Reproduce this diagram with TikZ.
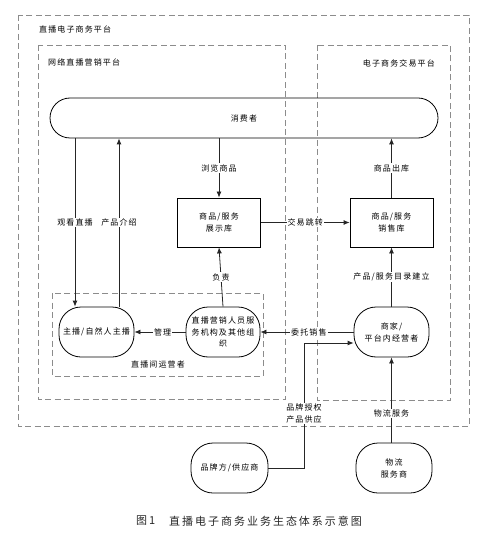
\documentclass[tikz,border=0pt]{standalone}
\usepackage{fontspec}
\usetikzlibrary{arrows.meta,calc}
\newfontfamily\cjk[LetterSpace=14]{Noto Sans CJK SC}
\newfontfamily\cjkcap[LetterSpace=18]{Noto Sans CJK SC}
\tikzset{
  txt/.style={font={\cjk\fontsize{8}{12}\selectfont},text=black,inner sep=1pt,align=center},
  dbox/.style={draw=black!45,dash pattern=on 6pt off 3.5pt,line width=0.7pt},
  sq/.style={txt,draw=black,line width=0.8pt,minimum width=83pt,minimum height=49pt,inner sep=0pt},
  stad/.style={txt,draw=black,line width=0.8pt,rounded corners=22pt,minimum width=75pt,minimum height=50pt,inner sep=0pt},
  arr/.style={draw=black!85,line width=0.8pt,-{Latex[length=6pt,width=5pt]}},
  lbl/.style={txt,fill=white,inner sep=1pt},
}
\begin{document}
\begin{tikzpicture}[x=1pt,y=-1pt]
\useasboundingbox (0,0) rectangle (498,537);
% platform frames
\draw[dbox] (18,15) rectangle (469,426);
\node[txt,anchor=west] (t1) at (38,29) {直播电子商务平台};
\draw[dbox] (38,45) rectangle (285,399);
\node[txt,anchor=west] (t2) at (47,62) {网络直播营销平台};
\draw[dbox] (317,45) rectangle (450,400);
\node[txt,anchor=east] (t3) at (436,63) {电子商务交易平台};
\draw[dbox] (52,293) rectangle (263,376);
\node[txt] (t4) at (158,364) {直播间运营者};

% nodes
\node[txt,draw=black,line width=0.8pt,rounded corners=20pt,minimum width=388pt,minimum height=40pt] (cons) at (244,118) {消费者};
\node[sq] (disp) at (219,222.5) {商品/服务\\展示库};
\node[sq] (sales) at (391.5,222.5) {商品/服务\\销售库};
\node[stad] (anch) at (96.5,332) {主播/自然人主播};
\node[stad,minimum width=74pt,font={\cjk\fontsize{8}{11.5}\selectfont}] (org) at (223,332) {直播营销人员服\\务机构及其他组\\织};
\node[stad] (merch) at (391.5,332) {商家/\\平台内经营者};
\node[stad,minimum width=77pt] (brand) at (229.5,468) {品牌方/供应商};
\node[stad,minimum width=76pt] (logi) at (394,468) {物流\\服务商};

% helper coordinates
\coordinate (xw) at (75,0);
\coordinate (xp) at (119,0);
\coordinate (bx) at (304,343);

% connectors
\draw[arr] (xw |- cons.south) -- (xw |- anch.north) node[lbl,pos=0.5] {观看直播};
\draw[arr] (xp |- anch.north) -- (xp |- cons.south) node[lbl,pos=0.5] {产品介绍};
\draw[arr] (cons.south -| disp) -- (disp.north) node[lbl,pos=0.5] {浏览商品};
\draw[arr] (sales.north) -- (cons.south -| sales) node[lbl,pos=0.5] {商品出库};
\draw[arr] (disp.east) -- (sales.west) node[lbl,pos=0.5] {交易跳转};
\draw[arr] (merch.north) -- (sales.south) node[lbl,pos=0.5] {产品/服务目录建立};
\draw[arr] (org.north) -- (disp.south) node[lbl,pos=0.5] {负责};
\draw[arr] (org.west) -- (anch.east) node[lbl,pos=0.45] {管理};
\draw[arr] (merch.west) -- (org.east) node[lbl,pos=0.48] {委托销售};
\draw[arr] (brand.east) -| (bx) -- (bx -| merch.west);
\node[lbl] (blbl) at (304,413.5) {品牌授权\\产品供应};
\draw[arr] (logi.north -| merch) -- (merch.south) node[lbl,pos=0.34] {物流服务};

% caption
\node[font={\cjkcap\fontsize{11}{13}\selectfont},text=black!85,anchor=west,inner sep=0pt] (cap1) at (136,521) {图1};
\node[font={\cjkcap\fontsize{11}{13}\selectfont},text=black!85,anchor=west,inner sep=0pt] (cap2) at (169,521) {直播电子商务业务生态体系示意图};
\end{tikzpicture}
\end{document}
